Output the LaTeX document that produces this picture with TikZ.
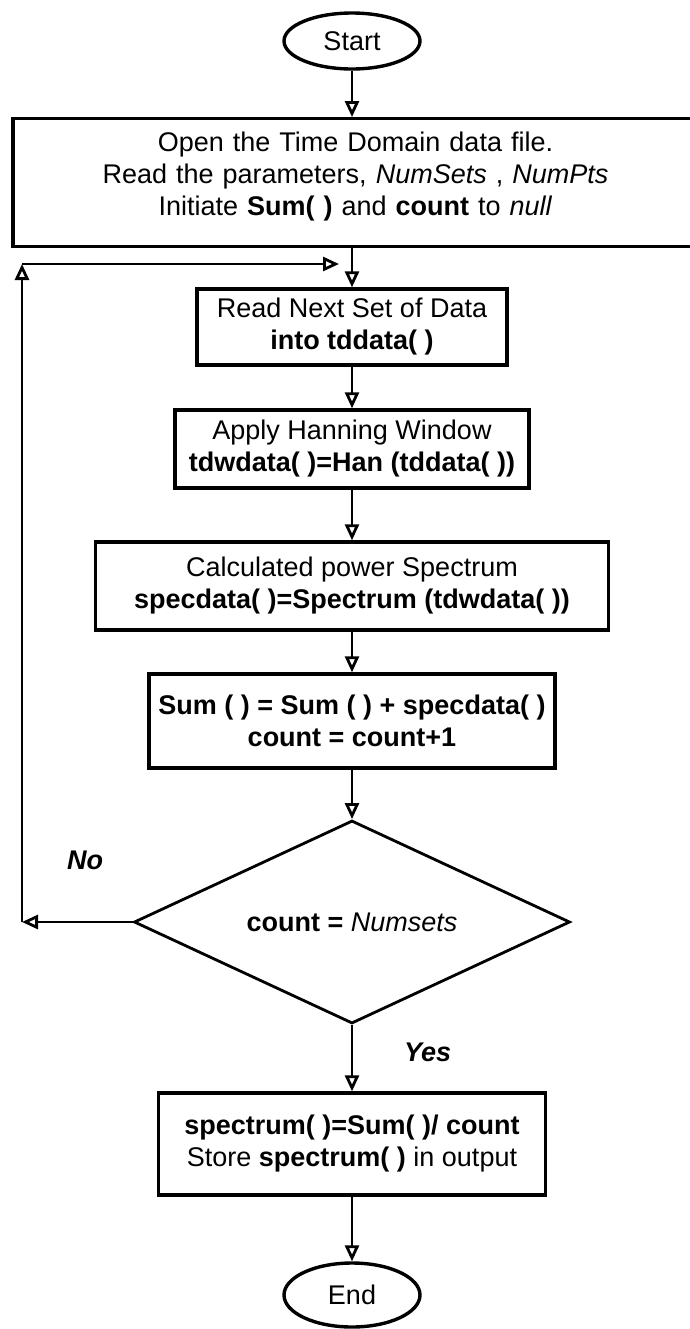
\documentclass[tikz,border=0pt]{standalone}
\usepackage{fontspec}
\setmainfont{Liberation Sans}
\usetikzlibrary{shapes.geometric, arrows.meta}

\begin{document}
\begin{tikzpicture}[x=0.5pt, y=-0.5pt,
    every node/.style={font=\fontsize{13.5}{16}\selectfont},
    procbox/.style={draw, rectangle, line width=\boxthic, align=center, inner sep=0pt},
    termbox/.style={draw, ellipse, line width=\boxthic, inner sep=0pt, minimum width=68pt},
    decbox/.style={draw, diamond, line width=\linethic, inner sep=0pt, aspect=2.15},
    flow/.style={-{Triangle[open, length=8pt, width=7pt]}, line width=\linethic},
    answer/.style={font=\fontsize{13.5}{16}\selectfont\bfseries\itshape}]
    %--------------------%
    % Parameters
    %--------------------%
    \def\colx{352}
    \def\loopx{22}
    \def\boxthic{1.7pt}
    \def\linethic{1.4pt}

    \useasboundingbox (0,0) rectangle (690,1329);

    %--------------------%
    % Start and setup
    %--------------------%
    \node[termbox, minimum height=28pt] (start) at (\colx,41) {Start};
    \node[procbox, anchor=north, minimum width=342.5pt, text width=300pt,
          inner ysep=6.5pt, text height=10pt, text depth=41pt] (open) at (355.5,117)
        {Open the Time Domain data file.\\
         Read the parameters, \textit{NumSets} , \textit{NumPts}\\
         Initiate \textbf{Sum( )} and \textbf{count} to \textit{null}};

    %--------------------%
    % Loop body
    %--------------------%
    \node[procbox, minimum width=155pt, minimum height=38pt] (nextset) at (\colx,327)
        {Read Next Set of Data\\ \textbf{into tddata( )}};
    \node[procbox, minimum width=177pt, minimum height=39pt] (hann) at (\colx,449)
        {Apply Hanning Window\\ \textbf{tdwdata( )=Han (tddata( ))}};
    \node[procbox, minimum width=256.5pt, minimum height=44pt] (spec) at (\colx,586)
        {Calculated power Spectrum\\ \textbf{specdata( )=Spectrum (tdwdata( ))}};
    \node[procbox, minimum width=203pt, minimum height=47pt] (accum) at (\colx,721)
        {\textbf{Sum ( ) = Sum ( ) + specdata( )}\\ \textbf{count = count+1}};

    %--------------------%
    % Test and output
    %--------------------%
    \node[decbox, minimum width=218pt, minimum height=101.5pt] (check) at (\colx,922)
        {\textbf{count =} \textit{Numsets}};
    \node[procbox, minimum width=193.5pt, minimum height=51pt] (result) at (\colx,1144)
        {\textbf{spectrum( )=Sum( )/ count}\\ Store \textbf{spectrum( )} in output};
    \node[termbox, minimum height=32pt] (finish) at (\colx,1295) {End};

    %--------------------%
    % Connections
    %--------------------%
    \draw[flow] (start) -- (start |- open.north);
    \draw[flow] (open.south -| nextset) -- (nextset);
    \draw[flow] (nextset) -- (hann);
    \draw[flow] (hann) -- (spec);
    \draw[flow] (spec) -- (accum);
    \draw[flow] (accum) -- (check);
    \draw[flow] (check) -- node[answer, pos=0.42, right=22pt]{Yes} (result);
    \draw[flow] (result) -- (finish);

    % No branch back to the top of the loop
    \coordinate (loopbot) at (\loopx,922);
    \coordinate (looptop) at (\loopx,264);
    \coordinate (loopend) at (339,264);
    \draw[flow] (check.west) -- node[answer, pos=0.43, above=22pt]{No} (loopbot);
    \draw[flow] (loopbot) -- (looptop);
    \draw[flow] (looptop) -- (loopend);

\end{tikzpicture}
\end{document}
